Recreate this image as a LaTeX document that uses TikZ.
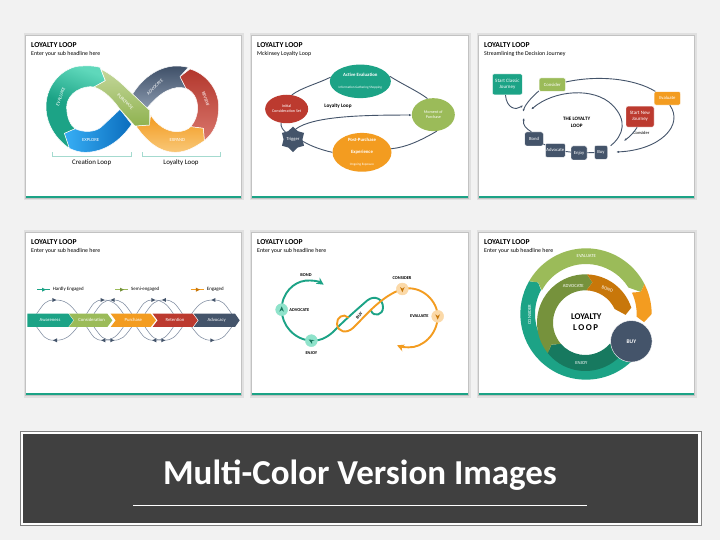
\documentclass[tikz,border=0pt]{standalone}
\usepackage{fontspec}
\setmainfont{Carlito}
\usetikzlibrary{arrows.meta,shapes.geometric}
\definecolor{cteal}{HTML}{1CA386}
\definecolor{cgreen}{HTML}{9BBB59}
\definecolor{corange}{HTML}{F39C20}
\definecolor{cred}{HTML}{BC3A2F}
\definecolor{cslate}{HTML}{44546A}
\definecolor{cdgreen}{HTML}{76923C}
\definecolor{cbrown}{HTML}{C8770A}
\definecolor{cdteal}{HTML}{17795F}
\definecolor{cloop}{HTML}{7F8CA0}
\definecolor{HTMLslatetop}{HTML}{3F5068}
\definecolor{HTMLslatebot}{HTML}{8A99AE}
\definecolor{HTMLredbot}{HTML}{D9766C}
\definecolor{HTMLorgtop}{HTML}{F29A1F}
\definecolor{HTMLorgbot}{HTML}{F9C878}
\definecolor{HTMLbluel}{HTML}{37AEF5}
\definecolor{HTMLbluer}{HTML}{0B6DBD}
\definecolor{HTMLtealtop}{HTML}{5FD8BB}
\definecolor{HTMLgrntop}{HTML}{C4D79B}
\definecolor{HTMLgrnbot}{HTML}{8FB24F}
\definecolor{HTMLmint}{HTML}{8FE3CB}
\definecolor{HTMLpeach}{HTML}{FBD9A8}
\definecolor{HTMLbanner}{HTML}{404040}
\newcommand\fs[1]{\fontsize{#1}{#1}\selectfont\setlength\baselineskip{1.2\baselineskip}}
\tikzset{
  zoomed/.style={x=0.33333pt,y=-0.33333pt},
  lab/.style={inner sep=0pt,align=center,text=white,font=\fs{4.7}},
  dark/.style={inner sep=0pt,align=center,text=black,font=\fs{4.5}\bfseries},
  piece/.style={draw=white,line width=0.5pt,line join=round},
  oval/.style={ellipse,inner sep=0pt,align=center,text=white},
  boxn/.style={rounded corners=2pt,draw=white,line width=0.4pt,inner sep=0pt,align=center,text=white,font=\fs{4.7}},
  conn/.style={draw=cslate,line width=0.9pt},
  endtip/.style={-{Latex[length=2.5pt,width=2.2pt]}},
  ribbon/.style={line width=1.9pt,line cap=round},
  bigtip/.style={-{Stealth[length=7pt,width=7pt,inset=2pt]}},
  stopnode/.style={circle,inner sep=0pt,minimum size=12pt,line width=0.4pt},
}
\newcommand\lpanel[6]{%
  \fill[black!12] (#2-2.5,#3-2.5) rectangle (#4+2.5,#5+2.5);
  \fill[black!24] (#2-1.2,#3-1.2) rectangle (#4+1.2,#5+1.2);
  \fill[white] (#2,#3) rectangle (#4,#5);
  \fill[cteal] (#2,#5-2) rectangle (#4,#5);
  \node[anchor=west,inner sep=0pt,font=\fs{7.6}\bfseries] (#1t) at (#2+5,#3+8.7) {LOYALTY LOOP};
  \node[anchor=west,inner sep=0pt,font=\fs{5.9}] (#1s) at (#2+5,#3+18) {#6};
}
\newcommand\triR[2]{\fill[cslate] (#1-6,#2-6)--(#1+6,#2)--(#1-6,#2+6)--cycle;}
\newcommand\triL[2]{\fill[cslate] (#1+6,#2-6)--(#1-6,#2)--(#1+6,#2+6)--cycle;}
% arch: x1, apex x, x2, y base, y apex
\newcommand\arch[5]{\draw[cloop,line width=0.55pt] (#1,#4) .. controls ({#1+0.18*(#3-#1)},{#5+0.28*(#4-#5)}) and ({#2-0.25*(#3-#1)},#5) .. (#2,#5) .. controls ({#2+0.25*(#3-#1)},#5) and ({#3-0.18*(#3-#1)},{#5+0.28*(#4-#5)}) .. (#3,#4);}
\newcommand\navicon[4]{\fill[#4,shift={(#1,#2)},rotate=#3] (0,-9)--(7,7)--(0,2)--(-7,7)--cycle;}
\begin{document}
\begin{tikzpicture}[x=1pt,y=-1pt]
\useasboundingbox (0,0) rectangle (720,540);
\fill[black!5] (0,0) rectangle (720,540);
\lpanel{a}{26}{36}{241}{198}{Enter your sub headline here}
\lpanel{b}{252}{36}{468}{198}{Mckinsey Loyalty Loop}
\lpanel{c}{479}{36}{694}{198}{Streamlining the Decision Journey}
\lpanel{d}{26}{233}{241}{395}{Enter your sub headline here}
\lpanel{e}{252}{233}{468}{395}{Enter your sub headline here}
\lpanel{f}{479}{233}{694}{395}{Enter your sub headline here}

% ---------- Panel 1: infinity ribbon
\begin{scope}[shift={(20,30)},zoomed]
\path[piece,top color=HTMLslatetop,bottom color=HTMLslatebot] (338,192) .. controls (370,140) and (420,108) .. (470,108) .. controls (485,108) and (495,110) .. (505,112) -- (480,140) -- (498,175) .. controls (460,165) and (420,185) .. (378,238) -- cycle;
\path[piece,top color=cred!95!black,bottom color=HTMLredbot] (510,117) -- (480,140) -- (498,175) .. controls (520,185) and (533,205) .. (533,235) .. controls (533,255) and (525,275) .. (512,290) -- (550,295) -- (553,332) .. controls (580,310) and (596,280) .. (596,230) .. controls (596,175) and (555,130) .. (510,117) -- cycle;
\path[piece,top color=HTMLorgtop,bottom color=HTMLorgbot] (392,255) .. controls (410,285) and (440,305) .. (470,305) .. controls (490,305) and (505,298) .. (512,290) -- (550,295) -- (553,332) .. controls (520,355) and (495,367) .. (465,367) .. controls (420,367) and (380,335) .. (348,288) -- (388,285) -- cycle;
\path[piece,left color=HTMLbluel,right color=HTMLbluer] (133,310) -- (165,296) .. controls (190,308) and (225,308) .. (245,290) -- (300,238) -- (335,283) .. controls (300,335) and (250,367) .. (195,367) .. controls (180,367) and (165,363) .. (148,355) -- cycle;
\path[piece,top color=HTMLtealtop,bottom color=cteal,middle color=cteal,shading angle=-20] (240,112) -- (256,152) -- (222,171) .. controls (195,165) and (140,185) .. (140,232) .. controls (140,260) and (150,285) .. (165,296) -- (133,310) -- (148,355) .. controls (105,325) and (78,280) .. (78,230) .. controls (78,155) and (140,105) .. (190,108) .. controls (210,107) and (225,108) .. (240,112) -- cycle;
\path[piece,top color=HTMLgrntop,bottom color=HTMLgrnbot] (243,118) .. controls (270,130) and (300,155) .. (325,180) -- (388,240) -- (388,285) -- (345,288) -- (300,238) .. controls (280,210) and (255,182) .. (222,171) -- (256,152) -- cycle;
\node[lab,rotate=70] (aev) at (122,200) {EVALUATE};
\node[lab,rotate=-45] (apu) at (316,215) {PURCHASE};
\node[lab,rotate=45] (aad) at (405,172) {ADVOCATE};
\node[lab,rotate=-72] (are) at (557,207) {REVIEW};
\node[lab] (aex) at (212,331) {EXPLORE};
\node[lab] (aep) at (472,331) {EXPAND};
\draw[cteal!40,line width=0.5pt] (98,367) -- (98,380) -- (334,380) -- (334,367);
\draw[cteal!40,line width=0.5pt] (367,367) -- (367,380) -- (602,380) -- (602,367);
\node[inner sep=0pt,font=\fs{6.9}] (acl) at (215,397) {Creation Loop};
\node[inner sep=0pt,font=\fs{6.9}] (all) at (483,397) {Loyalty Loop};
\end{scope}

% ---------- Panel 2: McKinsey loop
\begin{scope}[shift={(247,30)},zoomed]
\node[oval,fill=cteal,minimum width=59pt,minimum height=33.5pt] (bact) at (340,154) {\fs{4.8}\bfseries Active Evaluation\\[-0.5pt]\fs{3.3}Information Gathering Shopping};
\node[oval,fill=cred,minimum width=43pt,minimum height=28.5pt,font=\fs{4.1}] (bini) at (119,237) {Initial\\Consideration Set};
\node[oval,fill=cgreen,minimum width=43pt,minimum height=33pt,font=\fs{4.1}] (bmom) at (559,254) {Moment of\\Purchase};
\node[oval,fill=corange,minimum width=59pt,minimum height=33.5pt] (bpost) at (345,367) {\fs{4.8}\bfseries Post-Purchase\\\fs{4.8}\bfseries Experience\\[-0.5pt]\fs{3.3}Ongoing Exposure};
\node[star,star points=6,star point ratio=1.35,fill=cslate,minimum size=25.5pt,inner sep=0pt,text=white,font=\fs{4.6}] (btrg) at (138,328) {Trigger};
\node[dark,font=\fs{5.2}\bfseries] (bll) at (273,227) {Loyalty Loop};
\draw[conn] (bini.70) .. controls (165,172) and (215,160) .. (bact.172);
\draw[conn] (bact.10) .. controls (470,165) and (515,185) .. (bmom.110);
\draw[conn] (bmom.-78) .. controls (515,335) and (475,352) .. (bpost.7);
\draw[conn] (bpost.180) .. controls (225,360) and (195,350) .. (btrg.-12);
\draw[conn] (bini.-112) .. controls (100,290) and (110,303) .. (btrg.135);
\draw[conn,endtip] (btrg.75) .. controls (200,258) and (350,255) .. (bmom.181);
\end{scope}

% ---------- Panel 3: decision journey
\begin{scope}[shift={(474,30)},zoomed]
\node[boxn,fill=cteal,minimum width=30pt,minimum height=21pt,font=\fs{5}] (cstart) at (100,163) {Start Classic\\Journey};
\node[boxn,fill=cgreen,minimum width=26.5pt,minimum height=13.5pt] (ccons) at (235,164) {Consider};
\node[boxn,fill=corange,minimum width=26.5pt,minimum height=13.5pt] (ceval) at (580,205) {Evaluate};
\node[boxn,fill=cred,minimum width=28pt,minimum height=21pt,font=\fs{5}] (cnew) at (498,260) {Start New\\Journey};
\node[boxn,fill=cslate,minimum width=18.5pt,minimum height=14pt] (cbond) at (180,327) {Bond};
\node[boxn,fill=cslate,minimum width=20pt,minimum height=14pt] (cadv) at (244,361) {Advocate};
\node[boxn,fill=cslate,minimum width=16pt,minimum height=14pt] (cenj) at (315,369) {Enjoy};
\node[boxn,fill=cslate,minimum width=13pt,minimum height=14pt] (cbuy) at (381,367) {Buy};
\node[dark,font=\fs{5.1}\bfseries] (cthe) at (308,277) {THE LOYALTY\\LOOP};
\node[inner sep=0pt,font=\fs{4.5}] (cnote) at (502,309) {Consider};
\coordinate (ce1) at (427,366);
\coordinate (ce2) at (147,226);
\coordinate (ce3) at (147,245);
\coordinate (ce4) at (172,238);
\coordinate (cs4) at (410,347);
\coordinate (ce6) at (150,264);
\coordinate (ce7) at (450,332);
\draw[conn] (ccons.east) ++(0,-8) .. controls (370,135) and (480,145) .. (ceval.150);
\draw[conn,endtip] (ceval.-70) .. controls (630,285) and (560,360) .. (ce1);
\draw[conn,endtip] (cstart.-100) .. controls (98,235) and (125,242) .. (ce2);
\draw[conn,endtip] (ccons.-155) .. controls (180,195) and (155,220) .. (ce3);
\draw[conn,endtip] (cs4) .. controls (450,315) and (460,270) .. (415,225) .. controls (360,170) and (240,180) .. (ce4);
\draw[conn,endtip] (cbond.110) .. controls (155,295) and (146,285) .. (ce6);
\draw[conn,endtip] (cnew.-105) .. controls (478,310) and (465,322) .. (ce7);
\draw[conn] (cbond) -- (cadv);
\draw[conn] (cadv) -- (cenj);
\draw[conn] (cenj) -- (cbuy);
\end{scope}

% ---------- Panel 4: chevrons
\begin{scope}[shift={(20,228)},zoomed]
\draw[cteal,line width=0.45pt] (52,185) -- (90,185);
\fill[cteal] (66,179)--(78,185)--(66,191)--cycle;
\node[anchor=west,inner sep=0pt,font=\fs{4.9}] (dl1) at (98,185) {Hardly Engaged};
\draw[cgreen,line width=0.45pt] (285,185) -- (325,185);
\fill[cdgreen] (300,179)--(312,185)--(300,191)--cycle;
\node[anchor=west,inner sep=0pt,font=\fs{4.9}] (dl2) at (333,185) {Semi-engaged};
\draw[corange,line width=0.45pt] (513,185) -- (552,185);
\fill[cbrown] (528,179)--(540,185)--(528,191)--cycle;
\node[anchor=west,inner sep=0pt,font=\fs{4.9}] (dl3) at (560,185) {Engaged};
\arch{50}{105}{172}{257}{216}
\arch{50}{105}{172}{297}{337}
\arch{200}{250}{310}{257}{216}
\arch{222}{278}{335}{257}{216}
\arch{200}{250}{310}{297}{337}
\arch{222}{278}{335}{297}{337}
\arch{350}{400}{460}{257}{216}
\arch{375}{432}{487}{257}{216}
\arch{350}{403}{460}{297}{337}
\arch{375}{430}{487}{297}{337}
\arch{515}{580}{635}{257}{216}
\arch{515}{577}{635}{297}{337}
\fill[cteal] (22,257)--(145,257)--(160,277)--(145,297)--(22,297)--cycle;
\fill[cgreen] (147,257)--(262,257)--(277,277)--(262,297)--(147,297)--(162,277)--cycle;
\fill[corange] (272,257)--(392,257)--(408,277)--(392,297)--(272,297)--(287,277)--cycle;
\fill[cred] (398,257)--(518,257)--(533,277)--(518,297)--(398,297)--(413,277)--cycle;
\fill[cslate] (521,257)--(645,257)--(659,277)--(645,297)--(521,297)--(536,277)--cycle;
\node[lab,font=\fs{4.7}] (dn1) at (90,277) {Awareness};
\node[lab,font=\fs{4.7}] (dn2) at (215,277) {Consideration};
\node[lab,font=\fs{4.7}] (dn3) at (340,277) {Purchase};
\node[lab,font=\fs{4.7}] (dn4) at (465,277) {Retention};
\node[lab,font=\fs{4.7}] (dn5) at (590,277) {Advocacy};
\triR{103}{216} \triR{248}{216} \triL{278}{216} \triR{400}{216} \triL{432}{216} \triL{580}{216}
\triL{105}{337} \triL{250}{337} \triR{277}{337} \triL{403}{337} \triR{430}{337} \triR{577}{337}
\end{scope}

% ---------- Panel 5: S ribbon
\begin{scope}[shift={(247,228)},zoomed]
\draw[cteal,ribbon,bigtip] (372,248) .. controls (380,268) and (408,262) .. (408,238) .. controls (408,212) and (382,200) .. (360,218) .. controls (335,240) and (300,270) .. (270,300) .. controls (250,322) and (225,340) .. (193,338) .. controls (140,335) and (104,290) .. (104,245) .. controls (104,195) and (140,162) .. (175,158) .. controls (195,156) and (215,160) .. (230,170);
\draw[corange,ribbon,bigtip] (303,268) .. controls (290,255) and (268,268) .. (270,288) .. controls (272,312) and (298,318) .. (318,300) .. controls (350,270) and (400,205) .. (466,183) .. controls (525,170) and (572,220) .. (572,265) .. controls (572,320) and (525,360) .. (485,358) .. controls (472,358) and (460,356) .. (450,352);
\node[stopnode,fill=HTMLmint,draw=HTMLmint] (eadv) at (104,245) {};
\node[stopnode,fill=HTMLmint,draw=HTMLmint] (eenj) at (193,338) {};
\node[stopnode,fill=HTMLpeach,draw=HTMLpeach] (econ) at (466,183) {};
\node[stopnode,fill=HTMLpeach,draw=HTMLpeach] (eeva) at (572,265) {};
\navicon{104}{244}{0}{cdteal}
\navicon{193}{339}{60}{cdteal}
\navicon{466}{184}{180}{cbrown}
\navicon{572}{266}{180}{cbrown}
\node[dark,font=\fs{4.4}\bfseries] (e1) at (177,141) {BOND};
\node[dark,font=\fs{4.4}\bfseries] (e2) at (157,245) {ADVOCATE};
\node[dark,font=\fs{4.4}\bfseries] (e3) at (193,374) {ENJOY};
\node[dark,font=\fs{4.4}\bfseries] (e4) at (465,151) {CONSIDER};
\node[dark,font=\fs{4.4}\bfseries] (e5) at (517,265) {EVALUATE};
\node[dark,font=\fs{4.4}\bfseries,rotate=50] (e6) at (337,264) {BUY};
\end{scope}

% ---------- Panel 6: concentric loop
\begin{scope}[shift={(474,228)},zoomed]
\begin{scope}[shift={(336,258)}]
\fill[cteal] (45:197) arc[start angle=45,end angle=210,radius=197] -- (213.4:172) -- (208:153) arc[start angle=208,end angle=45,radius=153] -- cycle;
\fill[cgreen] (210:197) arc[start angle=210,end angle=333,radius=197] -- (338:177) -- (328:150) arc[start angle=328,end angle=208,radius=150] -- (213.4:172) -- cycle;
\fill[corange] (333:197) arc[start angle=333,end angle=360,radius=197] -- (8:176) -- (3:152) arc[start angle=3,end angle=-25,radius=152] -- (338:177) -- cycle;
\end{scope}
\begin{scope}[shift={(334,284)}]
\fill[cdteal] (141:145) arc[start angle=141,end angle=40,radius=145] -- (40:97) arc[start angle=40,end angle=139,radius=97] -- (147:121) -- cycle;
\fill[cdgreen] (272:145) arc[start angle=272,end angle=141,radius=145] -- (147:121) -- (139:97) arc[start angle=139,end angle=272,radius=97] -- (280:123) -- cycle;
\fill[cbrown] (272:145) arc[start angle=272,end angle=342,radius=145] -- (349:123) -- (335:97) arc[start angle=335,end angle=272,radius=97] -- (280:123) -- cycle;
\end{scope}
\node[circle,fill=cslate,draw=white,line width=0.4pt,minimum size=41.5pt,inner sep=0pt,text=white,font=\fs{5.5}\bfseries] (fbuy) at (472,340) {BUY};
\node[lab] (f1) at (337,84) {EVALUATE};
\node[lab,rotate=90] (f2) at (167,260) {CONSIDER};
\node[lab] (f3) at (298,173) {ADVOCATE};
\node[lab,rotate=-20] (f4) at (400,184) {BOND};
\node[lab] (f5) at (322,405) {ENJOY};
\node[dark,font=\fs{8.8}\bfseries] (f6) at (337,266) {LOYALTY};
\node[dark,font=\fs{8.9}\bfseries] (f7) at (335,299) {L\,O\,O\,P};
\end{scope}

% ---------- Banner
\fill[black!50] (19.5,431) rectangle (701.5,526);
\fill[white] (20.5,432) rectangle (700.5,525);
\fill[HTMLbanner] (23,434) rectangle (698,523);
\node[inner sep=0pt,text=white,font=\fs{35}\bfseries] (gt) at (360,475) {Multi-Color Version Images};
\draw[white,line width=0.7pt] (133,505) -- (587,505);
\end{tikzpicture}
\end{document}
